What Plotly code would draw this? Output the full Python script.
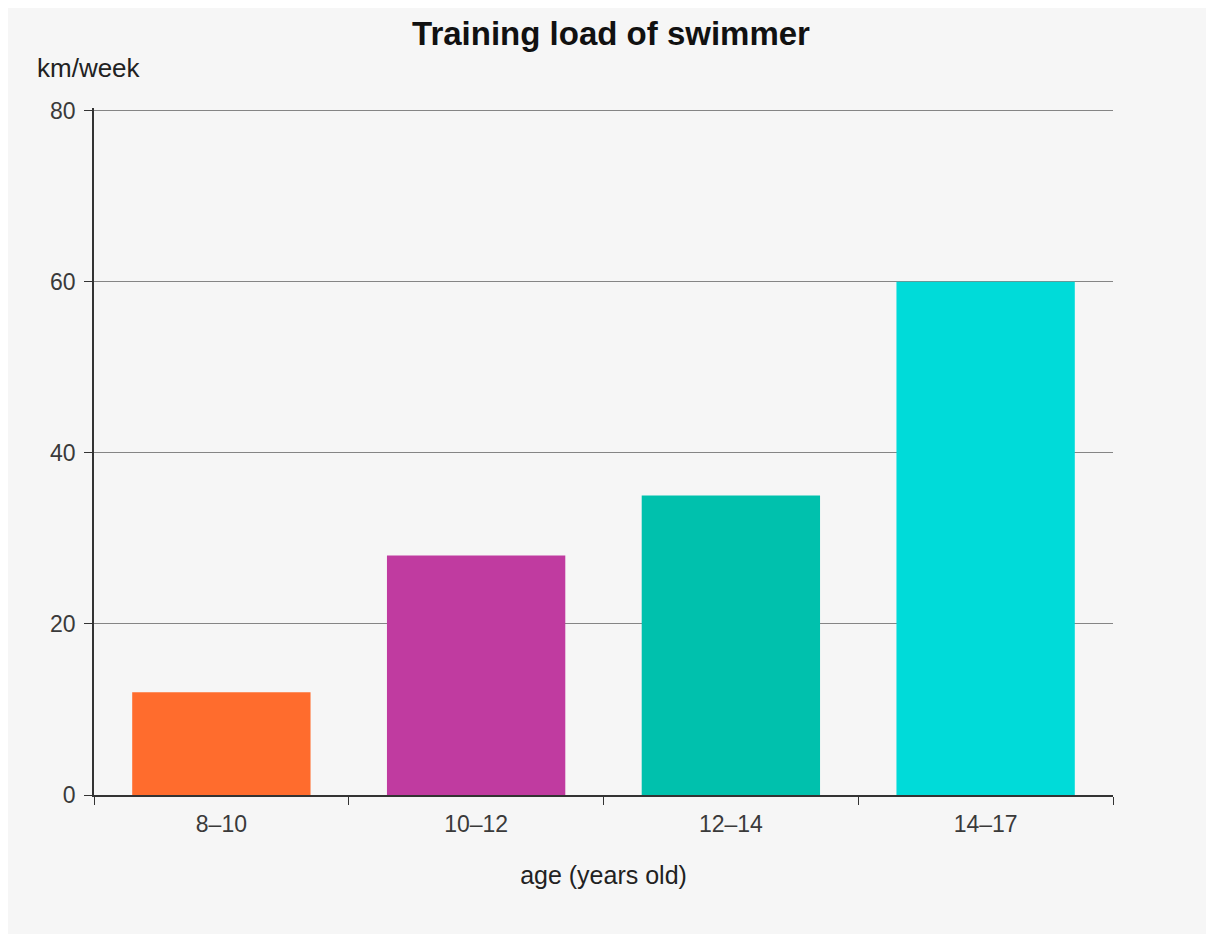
import plotly.graph_objects as go

# --- data ---
age_groups = ["8–10", "10–12", "12–14", "14–17"]
km_per_week = [12, 28, 35, 60]
bar_colors = ["#FF6C2D", "#C03BA0", "#00C1AD", "#00DBD9"]

y_ticks = [0, 20, 40, 60, 80]

FONT = "Liberation Sans, Arial, sans-serif"
# page has an 8px body margin, so the figure sits at (8, 8)
W, H = 1206, 926
L, R, T, B = 86, 101, 100, 139
pw, ph = W - L - R, H - T - B

fig = go.Figure()
fig.add_trace(go.Bar(
    x=age_groups,
    y=km_per_week,
    marker=dict(color=bar_colors, line=dict(width=0)),
    showlegend=False,
    hoverinfo="x+y",
))

# top of range a bit above 80 so the 80 gridline is drawn
fig.update_yaxes(
    range=[0, 80.3],
    tickvals=y_ticks,
    showgrid=True,
    gridcolor="#858585",
    gridwidth=1.2,
    showline=True,
    linecolor="#333",
    linewidth=1.5,
    ticks="outside",
    ticklen=8,
    tickcolor="#333",
    ticklabelstandoff=4,
    tickfont=dict(family=FONT, size=23, color="#3a3a3a"),
    zeroline=False,
)
fig.update_xaxes(
    showline=True,
    linecolor="#333",
    linewidth=1.5,
    ticks="outside",
    tickson="boundaries",
    ticklen=8,
    tickcolor="#333",
    ticklabelstandoff=8,
    tickfont=dict(family=FONT, size=23, color="#3a3a3a"),
    title=dict(text="age (years old)", font=dict(family=FONT, size=25, color="#222"), standoff=30),
    showgrid=False,
)

fig.update_layout(
    width=W,
    height=H,
    margin=dict(l=L, r=R, t=T, b=B, autoexpand=False),
    paper_bgcolor="#f6f6f6",
    plot_bgcolor="#f6f6f6",
    bargap=0.3,
    title=dict(
        text="<b>Training load of swimmer</b>",
        x=0.5, xanchor="center", xref="container",
        y=1 - 25 / H, yanchor="middle",
        font=dict(family=FONT, size=33, color="#111"),
    ),
    annotations=[
        dict(
            text="km/week", xref="paper", yref="paper",
            x=(27 - L) / pw, y=(H - B - 60) / ph, xanchor="left", yanchor="middle",
            showarrow=False, font=dict(family=FONT, size=26, color="#222"),
        )
    ],
)

fig.write_html("out.html")
